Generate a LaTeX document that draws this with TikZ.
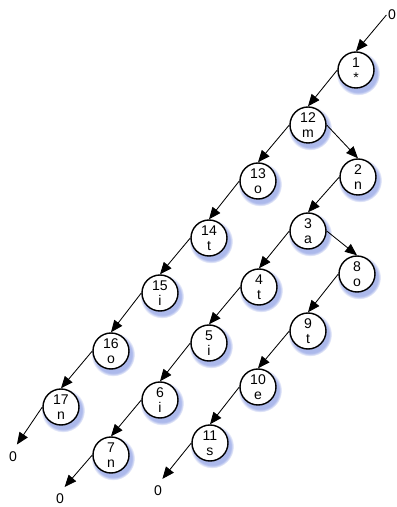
\documentclass[tikz,border=0pt]{standalone}
\usepackage{fontspec}
\setmainfont{Liberation Sans}
\usetikzlibrary{arrows.meta, shadows, fadings}
\definecolor{cShadow}{RGB}{90,115,215}

\begin{document}
\begin{tikzpicture}[>={Triangle[length=8.5pt,width=7pt]}, font=\fontsize{10}{11}\selectfont]

% ------------------- styles -------------------
\tikzstyle{trienode} = [draw, line width=1pt, circle, fill=white, minimum size=0.9cm, inner sep=0pt, align=center, circular drop shadow={shadow xshift=1.2pt, shadow yshift=-2pt, shadow scale=1.22, fill=cShadow, opacity=0.5}]
\tikzstyle{nullnode} = [inner sep=1pt]
\tikzstyle{link} = [->, line width=0.6pt]
\tikzstyle{nulllink} = [link, shorten >=5pt]

\useasboundingbox (0,0) rectangle (9.9,12.675);

% ------------------- left chain -------------------
\node[trienode] (n1)  at (8.9, 10.925) {1\\*};
\node[trienode] (n12) at (7.7, 9.55)   {12\\m};
\node[trienode] (n13) at (6.45, 8.15)  {13\\o};
\node[trienode] (n14) at (5.225, 6.725) {14\\t};
\node[trienode] (n15) at (4.0, 5.35)   {15\\i};
\node[trienode] (n16) at (2.775, 3.9)  {16\\o};
\node[trienode] (n17) at (1.525, 2.5)  {17\\n};

% ------------------- middle chain -------------------
\node[trienode] (n2) at (8.95, 8.25)   {2\\n};
\node[trienode] (n3) at (7.7, 6.9)     {3\\a};
\node[trienode] (n4) at (6.475, 5.5)   {4\\t};
\node[trienode] (n5) at (5.225, 4.1)   {5\\i};
\node[trienode] (n6) at (4.0, 2.675)   {6\\i};
\node[trienode] (n7) at (2.775, 1.3)   {7\\n};

% ------------------- right chain -------------------
\node[trienode] (n8)  at (8.925, 5.825) {8\\o};
\node[trienode] (n9)  at (7.7, 4.4)     {9\\t};
\node[trienode] (n10) at (6.45, 3.0)    {10\\e};
\node[trienode] (n11) at (5.25, 1.6)    {11\\s};

% ------------------- null ends -------------------
\node[nullnode] (zTop) at (9.8, 12.3)   {0};
\node[nullnode] (z17)  at (0.325, 1.25) {0};
\node[nullnode] (z7)   at (1.5, 0.2)    {0};
\node[nullnode] (z11)  at (3.95, 0.4)   {0};

% ------------------- links -------------------
\draw[link] (zTop.west) -- (n1.north);
\draw[link] (n1.west)  -- (n12.north);
\draw[link] (n12.west) -- (n13.north);
\draw[link] (n13.west) -- (n14.north);
\draw[link] (n14.west) -- (n15.north);
\draw[link] (n15.west) -- (n16.north);
\draw[link] (n16.west) -- (n17.north);
\draw[nulllink] (n17.west) -- (z17.north);

\draw[link] (n12.east) -- (n2.north);
\draw[link] (n2.west)  -- (n3.north);
\draw[link] (n3.west)  -- (n4.north);
\draw[link] (n4.west)  -- (n5.north);
\draw[link] (n5.west)  -- (n6.north);
\draw[link] (n6.west)  -- (n7.north);
\draw[nulllink] (n7.west) -- (z7.north);

\draw[link] (n3.east)  -- (n8.north);
\draw[link] (n8.west)  -- (n9.north);
\draw[link] (n9.west)  -- (n10.north);
\draw[link] (n10.west) -- (n11.north);
\draw[nulllink] (n11.west) -- (z11.north);

\end{tikzpicture}
\end{document}
